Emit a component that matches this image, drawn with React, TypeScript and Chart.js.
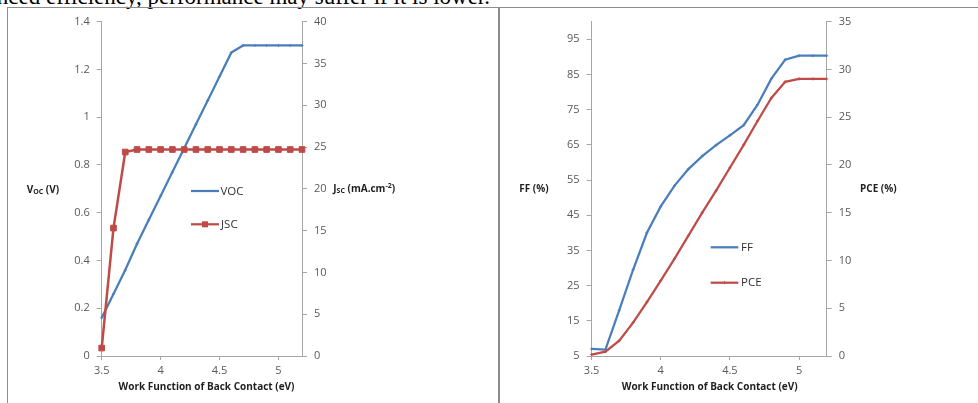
import React, { useEffect, useRef } from "react";
import { Chart, registerables } from "chart.js";

Chart.register(...registerables);

// ---------------- data ----------------
const workFunction = [3.5, 3.6, 3.7, 3.8, 3.9, 4.0, 4.1, 4.2, 4.3, 4.4, 4.5, 4.6, 4.7, 4.8, 4.9, 5.0, 5.1, 5.2];
const vocValues = [0.16, 0.26, 0.36, 0.47, 0.57, 0.67, 0.77, 0.87, 0.97, 1.07, 1.17, 1.27, 1.3, 1.3, 1.3, 1.3, 1.3, 1.3];
const jscValues = [0.95, 15.3, 24.4, 24.7, 24.7, 24.7, 24.7, 24.7, 24.7, 24.7, 24.7, 24.7, 24.7, 24.7, 24.7, 24.7, 24.7, 24.7];
const ffValues = [7.0, 6.8, 18.0, 29.5, 40.0, 47.5, 53.4, 58.1, 61.8, 64.9, 67.7, 70.6, 76.4, 83.8, 89.2, 90.3, 90.3, 90.3];
const pceValues = [0.15, 0.45, 1.6, 3.5, 5.65, 7.9, 10.2, 12.6, 15.0, 17.3, 19.7, 22.1, 24.6, 27.0, 28.7, 29.0, 29.0, 29.0];

const xTicks = [3.5, 4, 4.5, 5];
const vocTicks = [0, 0.2, 0.4, 0.6, 0.8, 1, 1.2, 1.4];
const jscTicks = [0, 5, 10, 15, 20, 25, 30, 35, 40];
const ffTicks = [5, 15, 25, 35, 45, 55, 65, 75, 85, 95];
const pceTicks = [0, 5, 10, 15, 20, 25, 30, 35];

const seriesNames = { voc: "VOC", jsc: "JSC", ff: "FF", pce: "PCE" };
const xTitle = "Work Function of Back Contact (eV)";
const topText = "enhanced efficiency, performance may suffer if it is lower.";

// ---------------- styles ----------------
const BLUE = "#4a7ebb";
const RED = "#be4b48";
const AXIS = "#a6a6a6";
const TICK_TEXT = "#595959";
const TITLE_TEXT = "#1f1f1f";
const FONT = "'Open Sans', 'DejaVu Sans', sans-serif";

type Part = { text: string; sub?: boolean; sup?: boolean };
type TitleSpec = { parts: Part[]; x: number; y: number; align: "left" | "center" };
type LegendSpec = { x1: number; x2: number; y: number; color: string; marker: "rect" | "dash" | "none"; label: string; textX: number };

function fmt(v: number): string {
  return String(Number(Number(v).toFixed(2)));
}

function setTicks(vals: number[]) {
  return (axis: any) => {
    axis.ticks = vals.map((v) => ({ value: v }));
  };
}

function drawTitles(ctx: CanvasRenderingContext2D, titles: TitleSpec[]) {
  ctx.save();
  ctx.fillStyle = TITLE_TEXT;
  ctx.textBaseline = "middle";
  ctx.textAlign = "left";
  for (const t of titles) {
    const fonts = t.parts.map((p) => (p.sub || p.sup ? `bold 7px ${FONT}` : `bold 10px ${FONT}`));
    let total = 0;
    const widths = t.parts.map((p, i) => {
      ctx.font = fonts[i];
      const w = ctx.measureText(p.text).width;
      total += w;
      return w;
    });
    let x = t.align === "center" ? t.x - total / 2 : t.x;
    t.parts.forEach((p, i) => {
      ctx.font = fonts[i];
      const dy = p.sub ? 2 : p.sup ? -3.5 : 0;
      ctx.fillText(p.text, x, t.y + dy);
      x += widths[i];
    });
  }
  ctx.restore();
}

function drawLegend(ctx: CanvasRenderingContext2D, items: LegendSpec[]) {
  ctx.save();
  for (const it of items) {
    ctx.strokeStyle = it.color;
    ctx.lineWidth = 2.25;
    ctx.beginPath();
    ctx.moveTo(it.x1, it.y);
    ctx.lineTo(it.x2, it.y);
    ctx.stroke();
    const cx = (it.x1 + it.x2) / 2;
    if (it.marker === "rect") {
      ctx.fillStyle = it.color;
      ctx.fillRect(cx - 3, it.y - 3, 6, 6);
    } else if (it.marker === "dash") {
      ctx.lineWidth = 1;
      ctx.beginPath();
      ctx.moveTo(cx, it.y - 1.5);
      ctx.lineTo(cx, it.y + 1.5);
      ctx.stroke();
    }
    ctx.fillStyle = "#333333";
    ctx.font = `11.5px ${FONT}`;
    ctx.textBaseline = "middle";
    ctx.textAlign = "left";
    ctx.fillText(it.label, it.textX, it.y + 0.5);
  }
  ctx.restore();
}

function makeOverlay(id: string, titles: TitleSpec[], legend: LegendSpec[]) {
  return {
    id,
    afterDraw(chart: any) {
      drawTitles(chart.ctx, titles);
      drawLegend(chart.ctx, legend);
    },
  };
}

function axisCommon(tickLen: number) {
  return {
    grid: { drawOnChartArea: false, drawTicks: true, tickLength: tickLen, color: AXIS, lineWidth: 1 },
    border: { display: true, color: AXIS, width: 1 },
  };
}

function yAxis(position: "left" | "right", min: number, max: number, ticks: number[], width: number) {
  return {
    type: "linear",
    position,
    min,
    max,
    afterBuildTicks: setTicks(ticks),
    afterFit: (s: any) => {
      s.width = width;
    },
    ...axisCommon(5),
    ticks: {
      padding: 7,
      color: TICK_TEXT,
      font: { family: FONT, size: 11 },
      callback: (v: any) => fmt(v),
    },
  };
}

function xAxis(height: number) {
  return {
    type: "linear",
    position: "bottom",
    min: 3.5,
    max: 5.2,
    afterBuildTicks: setTicks(xTicks),
    afterFit: (s: any) => {
      s.height = height;
    },
    ...axisCommon(4),
    ticks: {
      padding: 4,
      maxRotation: 0,
      autoSkip: false,
      color: TICK_TEXT,
      font: { family: FONT, size: 11 },
      callback: (v: any) => fmt(v),
    },
  };
}

function pts(values: number[]) {
  return workFunction.map((x, i) => ({ x, y: values[i] }));
}

const LEFT_W = 490;
const RIGHT_W = 479;
const CH = 395;

export default function App() {
  const leftRef = useRef<HTMLCanvasElement | null>(null);
  const rightRef = useRef<HTMLCanvasElement | null>(null);

  useEffect(() => {
    const charts: Chart[] = [];
    if (leftRef.current) {
      const overlay = makeOverlay(
        "leftOverlay",
        [
          { parts: [{ text: "V" }, { text: "OC", sub: true }, { text: " (V)" }], x: 18.7, y: 182, align: "left" },
          { parts: [{ text: "J" }, { text: "SC", sub: true }, { text: " (mA.cm" }, { text: "-2", sup: true }, { text: ")" }], x: 325.3, y: 181.3, align: "left" },
          { parts: [{ text: xTitle }], x: 198.5, y: 379.3, align: "center" },
        ],
        [
          { x1: 183, x2: 211, y: 183, color: BLUE, marker: "none", label: seriesNames.voc, textX: 212.5 },
          { x1: 183, x2: 211, y: 216.3, color: RED, marker: "rect", label: seriesNames.jsc, textX: 213 },
        ]
      );
      charts.push(
        new Chart(leftRef.current, {
          type: "line",
          data: {
            datasets: [
              {
                label: seriesNames.jsc,
                data: pts(jscValues),
                yAxisID: "y1",
                borderColor: RED,
                backgroundColor: RED,
                borderWidth: 2.5,
                pointStyle: "rect",
                pointRadius: 4,
                pointBorderWidth: 1,
                clip: false,
              },
              {
                label: seriesNames.voc,
                data: pts(vocValues),
                yAxisID: "y",
                borderColor: BLUE,
                backgroundColor: BLUE,
                borderWidth: 2.25,
                pointStyle: "cross",
                pointRadius: 1.5,
                pointBorderWidth: 1,
                clip: false,
              },
            ],
          } as any,
          options: {
            responsive: false,
            animation: false,
            devicePixelRatio: 1,
            layout: { padding: { top: 13, left: 0, right: 0, bottom: 0 } },
            plugins: { legend: { display: false }, tooltip: { enabled: false } },
            scales: {
              x: xAxis(47),
              y: yAxis("left", 0, 1.4, vocTicks, 93.7),
              y1: yAxis("right", 0, 40, jscTicks, 196),
            } as any,
          },
          plugins: [overlay],
        })
      );
    }
    if (rightRef.current) {
      const overlay = makeOverlay(
        "rightOverlay",
        [
          { parts: [{ text: "FF (%)" }], x: 20.3, y: 181, align: "left" },
          { parts: [{ text: "PCE (%)" }], x: 361, y: 181, align: "left" },
          { parts: [{ text: xTitle }], x: 210.7, y: 378.7, align: "center" },
        ],
        [
          { x1: 211.7, x2: 239.3, y: 239.3, color: BLUE, marker: "none", label: seriesNames.ff, textX: 242 },
          { x1: 211.7, x2: 239.3, y: 274.7, color: RED, marker: "dash", label: seriesNames.pce, textX: 242 },
        ]
      );
      charts.push(
        new Chart(rightRef.current, {
          type: "line",
          data: {
            datasets: [
              {
                label: seriesNames.pce,
                data: pts(pceValues),
                yAxisID: "y1",
                borderColor: RED,
                backgroundColor: RED,
                borderWidth: 2.25,
                pointStyle: "cross",
                pointRadius: 1.5,
                pointBorderWidth: 1,
                clip: false,
              },
              {
                label: seriesNames.ff,
                data: pts(ffValues),
                yAxisID: "y",
                borderColor: BLUE,
                backgroundColor: BLUE,
                borderWidth: 2.25,
                pointStyle: "cross",
                pointRadius: 1.5,
                pointBorderWidth: 1,
                clip: false,
              },
            ],
          } as any,
          options: {
            responsive: false,
            animation: false,
            devicePixelRatio: 1,
            layout: { padding: { top: 13, left: 0, right: 0, bottom: 0 } },
            plugins: { legend: { display: false }, tooltip: { enabled: false } },
            scales: {
              x: xAxis(47),
              y: yAxis("left", 5, 100, ffTicks, 92.6),
              y1: yAxis("right", 0, 35, pceTicks, RIGHT_W - 327.7),
            } as any,
          },
          plugins: [overlay],
        })
      );
    }
    return () => {
      charts.forEach((c) => c.destroy());
    };
  }, []);

  return (
    <div style={{ position: "absolute", left: 0, top: 0, width: 978, height: 403, overflow: "hidden", background: "#fff" }}>
      <div
        style={{
          position: "absolute",
          right: 978 - 490,
          top: -15,
          whiteSpace: "nowrap",
          fontFamily: "'Liberation Serif', 'Times New Roman', serif",
          fontSize: 23,
          lineHeight: 1,
          color: "#000",
        }}
      >
        {topText}
      </div>
      <div
        style={{
          position: "absolute",
          left: 7,
          top: 7,
          width: 490,
          height: 400,
          borderLeft: "1px solid #8c8c8c",
          borderTop: "1px solid #8c8c8c",
          borderRight: "1px solid #8c8c8c",
        }}
      />
      <div
        style={{
          position: "absolute",
          left: 499,
          top: 7,
          width: 490,
          height: 400,
          borderLeft: "1px solid #8c8c8c",
          borderTop: "1px solid #8c8c8c",
        }}
      />
      <canvas
        ref={leftRef}
        width={LEFT_W}
        height={CH}
        style={{ position: "absolute", left: 8, top: 8, width: LEFT_W, height: CH }}
      />
      <canvas
        ref={rightRef}
        width={RIGHT_W}
        height={CH}
        style={{ position: "absolute", left: 499, top: 8, width: RIGHT_W, height: CH }}
      />
    </div>
  );
}
